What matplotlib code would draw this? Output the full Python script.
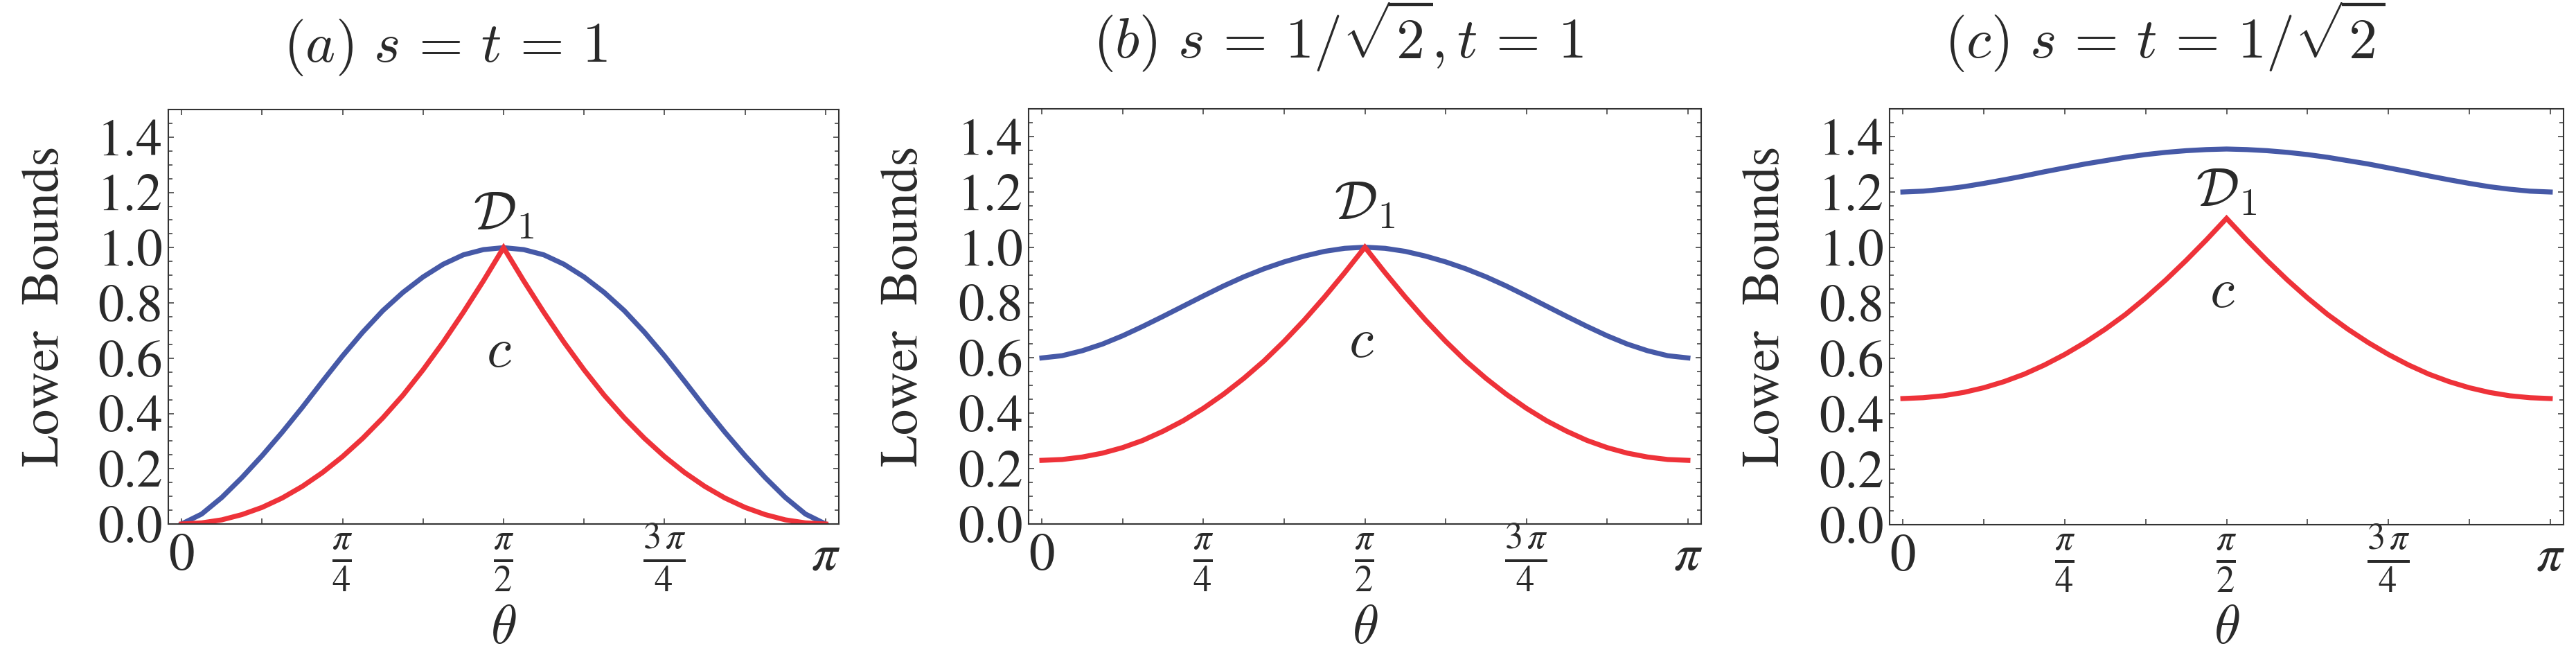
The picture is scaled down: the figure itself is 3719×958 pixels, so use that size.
import numpy as np
import matplotlib
matplotlib.use("Agg")
import matplotlib.pyplot as plt
from matplotlib.ticker import MultipleLocator, FixedLocator, FormatStrFormatter

# theta grid, steps of pi/32
theta = np.linspace(0, np.pi, 33)

# values (blue = D_1 bound, red = c bound)
blue_a = [0.0, 0.036, 0.096, 0.168, 0.247, 0.332, 0.422, 0.516, 0.608, 0.694, 0.772, 0.838, 0.894, 0.94, 0.974, 0.993, 1.0,
          0.993, 0.974, 0.94, 0.894, 0.838, 0.772, 0.694, 0.608, 0.516, 0.422, 0.332, 0.247, 0.168, 0.096, 0.036, 0.0]
red_a = [0.0, 0.004, 0.015, 0.034, 0.06, 0.094, 0.136, 0.186, 0.244, 0.31, 0.384, 0.466, 0.558, 0.658, 0.766, 0.88, 1.0,
         0.88, 0.766, 0.658, 0.558, 0.466, 0.384, 0.31, 0.244, 0.186, 0.136, 0.094, 0.06, 0.034, 0.015, 0.004, 0.0]
blue_b = [0.6, 0.608, 0.626, 0.65, 0.68, 0.714, 0.75, 0.787, 0.824, 0.86, 0.893, 0.922, 0.947, 0.968, 0.985, 0.996, 1.0,
          0.996, 0.985, 0.968, 0.947, 0.922, 0.893, 0.86, 0.824, 0.787, 0.75, 0.714, 0.68, 0.65, 0.626, 0.608, 0.6]
red_b = [0.23, 0.233, 0.242, 0.256, 0.276, 0.302, 0.335, 0.373, 0.418, 0.469, 0.526, 0.589, 0.66, 0.737, 0.82, 0.908, 1.0,
         0.908, 0.82, 0.737, 0.66, 0.589, 0.526, 0.469, 0.418, 0.373, 0.335, 0.302, 0.276, 0.256, 0.242, 0.233, 0.23]
blue_c = [1.2, 1.203, 1.21, 1.219, 1.231, 1.244, 1.258, 1.273, 1.287, 1.301, 1.313, 1.325, 1.335, 1.343, 1.349, 1.353, 1.355,
          1.353, 1.349, 1.343, 1.335, 1.325, 1.313, 1.301, 1.287, 1.273, 1.258, 1.244, 1.231, 1.219, 1.21, 1.203, 1.2]
red_c = [0.455, 0.458, 0.465, 0.477, 0.494, 0.516, 0.543, 0.576, 0.614, 0.657, 0.705, 0.758, 0.818, 0.883, 0.953, 1.027, 1.105,
         1.027, 0.953, 0.883, 0.818, 0.758, 0.705, 0.657, 0.614, 0.576, 0.543, 0.516, 0.494, 0.477, 0.465, 0.458, 0.455]

titles = [r"$(a)\ s\,=\,t\,=\,1$",
          r"$(b)\ s\,=\,1/\sqrt{2},t\,=\,1$",
          r"$(c)\ s\,=\,t\,=\,1/\sqrt{2}$"]
xtick_vals = [0, np.pi / 4, np.pi / 2, 3 * np.pi / 4, np.pi]
xtick_labels = [r"$0$", r"$\frac{\pi}{4}$", r"$\frac{\pi}{2}$", r"$\frac{3\,\pi}{4}$", r"$\pi$"]

BLUE = "#4659a7"
RED = "#ee3239"
INK = "#2a2a2a"

W, H = 3719, 958
plt.rcParams["mathtext.fontset"] = "stix"
plt.rcParams["font.family"] = "STIXGeneral"
plt.rcParams["text.color"] = INK

fig = plt.figure(figsize=(W / 100, H / 100), dpi=100)

# panel frames in pixels: left, right, top, bottom
frames = [(243, 1211, 158, 756), (1485, 2456, 157, 756), (2728, 3701, 157, 757)]
title_pos = [(643, 89), (1932, 84), (3125, 84)]
ylabel_x = [67, 1307, 2551]
d1_y = [1.064, 1.101, 1.147]
c_pos = [(1.547, 0.617), (1.553, 0.652), (1.55, 0.833)]
series = [(blue_a, red_a), (blue_b, red_b), (blue_c, red_c)]

for i in range(3):
    l, r, t, b = frames[i]
    ax = fig.add_axes([l / W, 1 - b / H, (r - l) / W, (b - t) / H])
    blue, red = series[i]
    ax.plot(theta, blue, color=BLUE, lw=5.2, solid_joinstyle="round")
    ax.plot(theta, red, color=RED, lw=5.2, solid_joinstyle="miter")

    ax.set_xlim(-0.0645, np.pi + 0.0645)
    ax.set_ylim(0, 1.5)
    ax.set_xticks(xtick_vals, xtick_labels)
    ax.xaxis.set_minor_locator(FixedLocator([np.pi / 8, 3 * np.pi / 8, 5 * np.pi / 8, 7 * np.pi / 8]))
    ax.yaxis.set_major_locator(MultipleLocator(0.2))
    ax.yaxis.set_minor_locator(MultipleLocator(0.05))
    ax.yaxis.set_major_formatter(FormatStrFormatter("%.1f"))

    ax.tick_params(which="both", direction="in", top=True, right=True, width=1.1, color="#333333")
    ax.tick_params(axis="x", which="both", length=5.8)
    ax.tick_params(axis="x", which="major", pad=47.5, labelsize=54, labelcolor=INK)
    ax.tick_params(axis="y", which="major", length=5.8, pad=5.8, labelsize=54, labelcolor=INK)
    ax.tick_params(axis="y", which="minor", length=4.0)
    plt.setp(ax.get_xticklabels(), va="baseline")
    for sp in ax.spines.values():
        sp.set_color("#333333")
        sp.set_linewidth(1.5)

    ax.text(np.pi / 2, d1_y[i], r"$\mathcal{D}_1$", ha="center", va="baseline",
            fontsize=56, math_fontfamily="cm")
    ax.text(c_pos[i][0], c_pos[i][1], r"$c$", ha="center", va="center",
            fontsize=58, math_fontfamily="cm")
    ax.text(0.5, (b - 875) / (b - t), r"$\theta$", transform=ax.transAxes,
            ha="center", va="top", fontsize=56, math_fontfamily="cm")

    tx, ty = title_pos[i]
    fig.text(tx / W, 1 - ty / H, titles[i], ha="center", va="baseline",
             fontsize=59, math_fontfamily="cm")
    fig.text(ylabel_x[i] / W, 1 - 442 / H, "Lower  Bounds", rotation=90,
             ha="center", va="center", fontsize=54)

fig.savefig("out.png", dpi=100)
